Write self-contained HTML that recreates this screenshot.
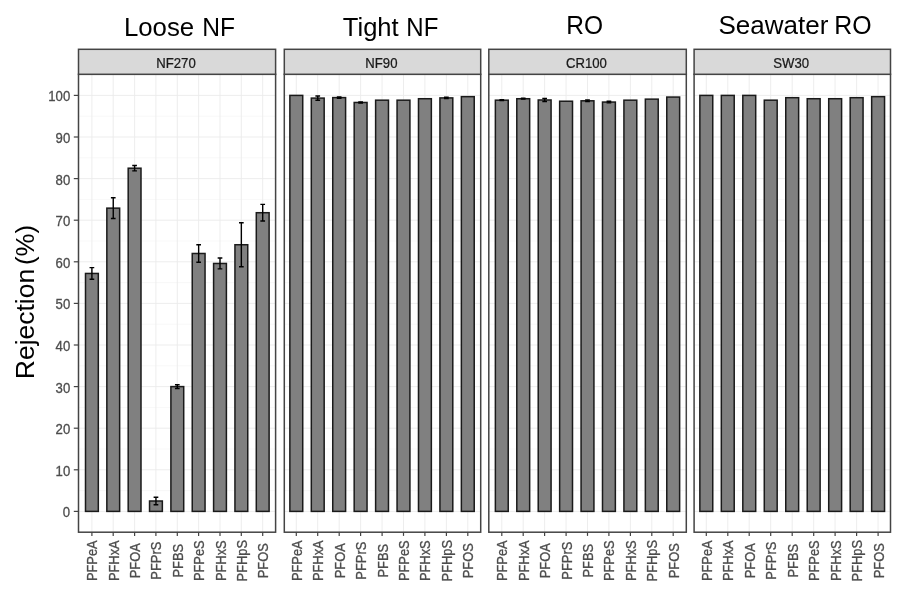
<!DOCTYPE html>
<html lang="en"><head><meta charset="utf-8"><title>PFAS rejection by membrane</title>
<style>html,body{margin:0;padding:0;background:#fff}body{width:900px;height:590px;overflow:hidden}svg{display:block;filter:blur(.4px)}text{font-family:"Liberation Sans",Arial,sans-serif}.t{font-size:25.4px;fill:#000}.ax{font-size:14px;fill:#4d4d4d;stroke:#4d4d4d;stroke-width:.3}.st{font-size:14px;fill:#1a1a1a;stroke:#1a1a1a;stroke-width:.25}.gm{stroke:#ebebeb;stroke-width:.9}.gn{stroke:#f0f0f0;stroke-width:.5}.bar{fill:#808080;stroke:#1a1a1a;stroke-width:1.5}.eb{stroke:#000;stroke-width:1.4;fill:none}.pb{fill:none;stroke:#444;stroke-width:1.5}.sb{fill:#d9d9d9;stroke:#444;stroke-width:1.5}.tk{stroke:#444;stroke-width:1.2}</style></head><body>
<svg width="900" height="590" viewBox="0 0 900 590">
<rect width="900" height="590" fill="#fff"/>
<text class="t" y="35.8"><tspan x="123.9" textLength="70.3" lengthAdjust="spacingAndGlyphs">Loose</tspan> <tspan x="202.2" textLength="32.8" lengthAdjust="spacingAndGlyphs">NF</tspan></text>
<text class="t" y="35.8"><tspan x="342.8" textLength="55.9" lengthAdjust="spacingAndGlyphs">Tight</tspan> <tspan x="406.3" textLength="32.0" lengthAdjust="spacingAndGlyphs">NF</tspan></text>
<text class="t" y="34.2"><tspan x="566.2" textLength="36.8" lengthAdjust="spacingAndGlyphs">RO</tspan></text>
<text class="t" y="33.8"><tspan x="718.5" textLength="109.8" lengthAdjust="spacingAndGlyphs">Seawater</tspan> <tspan x="834.3" textLength="37.3" lengthAdjust="spacingAndGlyphs">RO</tspan></text>
<text class="t" transform="translate(33.6,377.2) rotate(-90)"><tspan x="-2" textLength="110.4" lengthAdjust="spacingAndGlyphs">Rejection</tspan> <tspan x="112.2" textLength="40.1" lengthAdjust="spacingAndGlyphs">(%)</tspan></text>
<text class="ax" transform="translate(70.2,517.3) scale(0.94,1)" text-anchor="end">0</text>
<line class="tk" x1="73.8" x2="78.5" y1="511.4" y2="511.4"/>
<text class="ax" transform="translate(70.2,475.7) scale(0.94,1)" text-anchor="end">10</text>
<line class="tk" x1="73.8" x2="78.5" y1="469.8" y2="469.8"/>
<text class="ax" transform="translate(70.2,434.1) scale(0.94,1)" text-anchor="end">20</text>
<line class="tk" x1="73.8" x2="78.5" y1="428.2" y2="428.2"/>
<text class="ax" transform="translate(70.2,392.5) scale(0.94,1)" text-anchor="end">30</text>
<line class="tk" x1="73.8" x2="78.5" y1="386.6" y2="386.6"/>
<text class="ax" transform="translate(70.2,350.9) scale(0.94,1)" text-anchor="end">40</text>
<line class="tk" x1="73.8" x2="78.5" y1="345.0" y2="345.0"/>
<text class="ax" transform="translate(70.2,309.3) scale(0.94,1)" text-anchor="end">50</text>
<line class="tk" x1="73.8" x2="78.5" y1="303.4" y2="303.4"/>
<text class="ax" transform="translate(70.2,267.7) scale(0.94,1)" text-anchor="end">60</text>
<line class="tk" x1="73.8" x2="78.5" y1="261.8" y2="261.8"/>
<text class="ax" transform="translate(70.2,226.1) scale(0.94,1)" text-anchor="end">70</text>
<line class="tk" x1="73.8" x2="78.5" y1="220.2" y2="220.2"/>
<text class="ax" transform="translate(70.2,184.5) scale(0.94,1)" text-anchor="end">80</text>
<line class="tk" x1="73.8" x2="78.5" y1="178.6" y2="178.6"/>
<text class="ax" transform="translate(70.2,142.9) scale(0.94,1)" text-anchor="end">90</text>
<line class="tk" x1="73.8" x2="78.5" y1="137.0" y2="137.0"/>
<text class="ax" transform="translate(70.2,101.3) scale(0.94,1)" text-anchor="end">100</text>
<line class="tk" x1="73.8" x2="78.5" y1="95.4" y2="95.4"/>
<g>
<line class="gm" x1="78.5" x2="275.6" y1="511.4" y2="511.4"/>
<line class="gn" x1="78.5" x2="275.6" y1="490.6" y2="490.6"/>
<line class="gm" x1="78.5" x2="275.6" y1="469.8" y2="469.8"/>
<line class="gn" x1="78.5" x2="275.6" y1="449.0" y2="449.0"/>
<line class="gm" x1="78.5" x2="275.6" y1="428.2" y2="428.2"/>
<line class="gn" x1="78.5" x2="275.6" y1="407.4" y2="407.4"/>
<line class="gm" x1="78.5" x2="275.6" y1="386.6" y2="386.6"/>
<line class="gn" x1="78.5" x2="275.6" y1="365.8" y2="365.8"/>
<line class="gm" x1="78.5" x2="275.6" y1="345.0" y2="345.0"/>
<line class="gn" x1="78.5" x2="275.6" y1="324.2" y2="324.2"/>
<line class="gm" x1="78.5" x2="275.6" y1="303.4" y2="303.4"/>
<line class="gn" x1="78.5" x2="275.6" y1="282.6" y2="282.6"/>
<line class="gm" x1="78.5" x2="275.6" y1="261.8" y2="261.8"/>
<line class="gn" x1="78.5" x2="275.6" y1="241.0" y2="241.0"/>
<line class="gm" x1="78.5" x2="275.6" y1="220.2" y2="220.2"/>
<line class="gn" x1="78.5" x2="275.6" y1="199.4" y2="199.4"/>
<line class="gm" x1="78.5" x2="275.6" y1="178.6" y2="178.6"/>
<line class="gn" x1="78.5" x2="275.6" y1="157.8" y2="157.8"/>
<line class="gm" x1="78.5" x2="275.6" y1="137.0" y2="137.0"/>
<line class="gn" x1="78.5" x2="275.6" y1="116.2" y2="116.2"/>
<line class="gm" x1="78.5" x2="275.6" y1="95.4" y2="95.4"/>
<line class="gm" x1="91.9" x2="91.9" y1="74.3" y2="532.2"/>
<line class="gm" x1="113.2" x2="113.2" y1="74.3" y2="532.2"/>
<line class="gm" x1="134.6" x2="134.6" y1="74.3" y2="532.2"/>
<line class="gm" x1="155.9" x2="155.9" y1="74.3" y2="532.2"/>
<line class="gm" x1="177.3" x2="177.3" y1="74.3" y2="532.2"/>
<line class="gm" x1="198.6" x2="198.6" y1="74.3" y2="532.2"/>
<line class="gm" x1="220.0" x2="220.0" y1="74.3" y2="532.2"/>
<line class="gm" x1="241.3" x2="241.3" y1="74.3" y2="532.2"/>
<line class="gm" x1="262.7" x2="262.7" y1="74.3" y2="532.2"/>
<rect class="bar" x="85.50" y="273.45" width="12.81" height="237.95"/>
<path class="eb" d="M89.55 267.62H94.25M89.55 279.27H94.25M91.90 267.62V279.27"/>
<rect class="bar" x="106.84" y="208.14" width="12.81" height="303.26"/>
<path class="eb" d="M110.90 197.74H115.60M110.90 218.54H115.60M113.25 197.74V218.54"/>
<rect class="bar" x="128.19" y="168.20" width="12.81" height="343.20"/>
<path class="eb" d="M132.25 165.50H136.95M132.25 170.90H136.95M134.60 165.50V170.90"/>
<rect class="bar" x="149.54" y="501.00" width="12.81" height="10.40"/>
<path class="eb" d="M153.60 497.26H158.30M153.60 504.74H158.30M155.95 497.26V504.74"/>
<rect class="bar" x="170.90" y="386.60" width="12.81" height="124.80"/>
<path class="eb" d="M174.95 384.73H179.65M174.95 388.47H179.65M177.30 384.73V388.47"/>
<rect class="bar" x="192.24" y="253.48" width="12.81" height="257.92"/>
<path class="eb" d="M196.30 244.74H201.00M196.30 262.22H201.00M198.65 244.74V262.22"/>
<rect class="bar" x="213.59" y="263.46" width="12.81" height="247.94"/>
<path class="eb" d="M217.65 258.06H222.35M217.65 268.87H222.35M220.00 258.06V268.87"/>
<rect class="bar" x="234.94" y="244.74" width="12.81" height="266.66"/>
<path class="eb" d="M239.00 222.70H243.70M239.00 266.79H243.70M241.35 222.70V266.79"/>
<rect class="bar" x="256.30" y="212.71" width="12.81" height="298.69"/>
<path class="eb" d="M260.35 204.39H265.05M260.35 221.03H265.05M262.70 204.39V221.03"/>
<rect class="pb" x="78.5" y="74.3" width="197.1" height="457.9"/>
<rect class="sb" x="78.5" y="49.3" width="197.1" height="25.0"/>
<text class="st" transform="translate(176.0,68.4) scale(0.94,1)" text-anchor="middle">NF270</text>
<line class="tk" x1="91.9" x2="91.9" y1="532.2" y2="535.9"/>
<text class="ax" transform="translate(97.4,560.7) rotate(-90) scale(0.9199999999999999,1)" text-anchor="middle">PFPeA</text>
<line class="tk" x1="113.2" x2="113.2" y1="532.2" y2="535.9"/>
<text class="ax" transform="translate(118.8,560.7) rotate(-90) scale(0.9199999999999999,1)" text-anchor="middle">PFHxA</text>
<line class="tk" x1="134.6" x2="134.6" y1="532.2" y2="535.9"/>
<text class="ax" transform="translate(140.1,560.7) rotate(-90) scale(0.9199999999999999,1)" text-anchor="middle">PFOA</text>
<line class="tk" x1="155.9" x2="155.9" y1="532.2" y2="535.9"/>
<text class="ax" transform="translate(161.4,560.7) rotate(-90) scale(0.9199999999999999,1)" text-anchor="middle">PFPrS</text>
<line class="tk" x1="177.3" x2="177.3" y1="532.2" y2="535.9"/>
<text class="ax" transform="translate(182.8,560.7) rotate(-90) scale(0.9199999999999999,1)" text-anchor="middle">PFBS</text>
<line class="tk" x1="198.6" x2="198.6" y1="532.2" y2="535.9"/>
<text class="ax" transform="translate(204.1,560.7) rotate(-90) scale(0.9199999999999999,1)" text-anchor="middle">PFPeS</text>
<line class="tk" x1="220.0" x2="220.0" y1="532.2" y2="535.9"/>
<text class="ax" transform="translate(225.5,560.7) rotate(-90) scale(0.9199999999999999,1)" text-anchor="middle">PFHxS</text>
<line class="tk" x1="241.3" x2="241.3" y1="532.2" y2="535.9"/>
<text class="ax" transform="translate(246.8,560.7) rotate(-90) scale(0.9199999999999999,1)" text-anchor="middle">PFHpS</text>
<line class="tk" x1="262.7" x2="262.7" y1="532.2" y2="535.9"/>
<text class="ax" transform="translate(268.2,560.7) rotate(-90) scale(0.9199999999999999,1)" text-anchor="middle">PFOS</text>
</g>
<g>
<line class="gm" x1="284.3" x2="480.7" y1="511.4" y2="511.4"/>
<line class="gn" x1="284.3" x2="480.7" y1="490.6" y2="490.6"/>
<line class="gm" x1="284.3" x2="480.7" y1="469.8" y2="469.8"/>
<line class="gn" x1="284.3" x2="480.7" y1="449.0" y2="449.0"/>
<line class="gm" x1="284.3" x2="480.7" y1="428.2" y2="428.2"/>
<line class="gn" x1="284.3" x2="480.7" y1="407.4" y2="407.4"/>
<line class="gm" x1="284.3" x2="480.7" y1="386.6" y2="386.6"/>
<line class="gn" x1="284.3" x2="480.7" y1="365.8" y2="365.8"/>
<line class="gm" x1="284.3" x2="480.7" y1="345.0" y2="345.0"/>
<line class="gn" x1="284.3" x2="480.7" y1="324.2" y2="324.2"/>
<line class="gm" x1="284.3" x2="480.7" y1="303.4" y2="303.4"/>
<line class="gn" x1="284.3" x2="480.7" y1="282.6" y2="282.6"/>
<line class="gm" x1="284.3" x2="480.7" y1="261.8" y2="261.8"/>
<line class="gn" x1="284.3" x2="480.7" y1="241.0" y2="241.0"/>
<line class="gm" x1="284.3" x2="480.7" y1="220.2" y2="220.2"/>
<line class="gn" x1="284.3" x2="480.7" y1="199.4" y2="199.4"/>
<line class="gm" x1="284.3" x2="480.7" y1="178.6" y2="178.6"/>
<line class="gn" x1="284.3" x2="480.7" y1="157.8" y2="157.8"/>
<line class="gm" x1="284.3" x2="480.7" y1="137.0" y2="137.0"/>
<line class="gn" x1="284.3" x2="480.7" y1="116.2" y2="116.2"/>
<line class="gm" x1="284.3" x2="480.7" y1="95.4" y2="95.4"/>
<line class="gm" x1="296.3" x2="296.3" y1="74.3" y2="532.2"/>
<line class="gm" x1="317.7" x2="317.7" y1="74.3" y2="532.2"/>
<line class="gm" x1="339.2" x2="339.2" y1="74.3" y2="532.2"/>
<line class="gm" x1="360.6" x2="360.6" y1="74.3" y2="532.2"/>
<line class="gm" x1="382.1" x2="382.1" y1="74.3" y2="532.2"/>
<line class="gm" x1="403.5" x2="403.5" y1="74.3" y2="532.2"/>
<line class="gm" x1="424.9" x2="424.9" y1="74.3" y2="532.2"/>
<line class="gm" x1="446.4" x2="446.4" y1="74.3" y2="532.2"/>
<line class="gm" x1="467.8" x2="467.8" y1="74.3" y2="532.2"/>
<rect class="bar" x="289.87" y="95.40" width="12.86" height="416.00"/>
<rect class="bar" x="311.31" y="98.10" width="12.86" height="413.30"/>
<path class="eb" d="M315.38 96.02H320.10M315.38 100.18H320.10M317.74 96.02V100.18"/>
<rect class="bar" x="332.74" y="97.60" width="12.86" height="413.80"/>
<path class="eb" d="M336.82 96.98H341.53M336.82 98.23H341.53M339.18 96.98V98.23"/>
<rect class="bar" x="354.18" y="102.47" width="12.86" height="408.93"/>
<path class="eb" d="M358.25 101.85H362.97M358.25 103.10H362.97M360.61 101.85V103.10"/>
<rect class="bar" x="375.62" y="100.18" width="12.86" height="411.22"/>
<rect class="bar" x="397.06" y="100.18" width="12.86" height="411.22"/>
<rect class="bar" x="418.49" y="98.73" width="12.86" height="412.67"/>
<rect class="bar" x="439.93" y="97.90" width="12.86" height="413.50"/>
<path class="eb" d="M444.00 97.27H448.72M444.00 98.52H448.72M446.36 97.27V98.52"/>
<rect class="bar" x="461.37" y="96.65" width="12.86" height="414.75"/>
<rect class="pb" x="284.3" y="74.3" width="196.4" height="457.9"/>
<rect class="sb" x="284.3" y="49.3" width="196.4" height="25.0"/>
<text class="st" transform="translate(381.4,68.4) scale(0.94,1)" text-anchor="middle">NF90</text>
<line class="tk" x1="296.3" x2="296.3" y1="532.2" y2="535.9"/>
<text class="ax" transform="translate(301.8,560.7) rotate(-90) scale(0.9199999999999999,1)" text-anchor="middle">PFPeA</text>
<line class="tk" x1="317.7" x2="317.7" y1="532.2" y2="535.9"/>
<text class="ax" transform="translate(323.2,560.7) rotate(-90) scale(0.9199999999999999,1)" text-anchor="middle">PFHxA</text>
<line class="tk" x1="339.2" x2="339.2" y1="532.2" y2="535.9"/>
<text class="ax" transform="translate(344.7,560.7) rotate(-90) scale(0.9199999999999999,1)" text-anchor="middle">PFOA</text>
<line class="tk" x1="360.6" x2="360.6" y1="532.2" y2="535.9"/>
<text class="ax" transform="translate(366.1,560.7) rotate(-90) scale(0.9199999999999999,1)" text-anchor="middle">PFPrS</text>
<line class="tk" x1="382.1" x2="382.1" y1="532.2" y2="535.9"/>
<text class="ax" transform="translate(387.6,560.7) rotate(-90) scale(0.9199999999999999,1)" text-anchor="middle">PFBS</text>
<line class="tk" x1="403.5" x2="403.5" y1="532.2" y2="535.9"/>
<text class="ax" transform="translate(409.0,560.7) rotate(-90) scale(0.9199999999999999,1)" text-anchor="middle">PFPeS</text>
<line class="tk" x1="424.9" x2="424.9" y1="532.2" y2="535.9"/>
<text class="ax" transform="translate(430.4,560.7) rotate(-90) scale(0.9199999999999999,1)" text-anchor="middle">PFHxS</text>
<line class="tk" x1="446.4" x2="446.4" y1="532.2" y2="535.9"/>
<text class="ax" transform="translate(451.9,560.7) rotate(-90) scale(0.9199999999999999,1)" text-anchor="middle">PFHpS</text>
<line class="tk" x1="467.8" x2="467.8" y1="532.2" y2="535.9"/>
<text class="ax" transform="translate(473.3,560.7) rotate(-90) scale(0.9199999999999999,1)" text-anchor="middle">PFOS</text>
</g>
<g>
<line class="gm" x1="488.8" x2="686.3" y1="511.4" y2="511.4"/>
<line class="gn" x1="488.8" x2="686.3" y1="490.6" y2="490.6"/>
<line class="gm" x1="488.8" x2="686.3" y1="469.8" y2="469.8"/>
<line class="gn" x1="488.8" x2="686.3" y1="449.0" y2="449.0"/>
<line class="gm" x1="488.8" x2="686.3" y1="428.2" y2="428.2"/>
<line class="gn" x1="488.8" x2="686.3" y1="407.4" y2="407.4"/>
<line class="gm" x1="488.8" x2="686.3" y1="386.6" y2="386.6"/>
<line class="gn" x1="488.8" x2="686.3" y1="365.8" y2="365.8"/>
<line class="gm" x1="488.8" x2="686.3" y1="345.0" y2="345.0"/>
<line class="gn" x1="488.8" x2="686.3" y1="324.2" y2="324.2"/>
<line class="gm" x1="488.8" x2="686.3" y1="303.4" y2="303.4"/>
<line class="gn" x1="488.8" x2="686.3" y1="282.6" y2="282.6"/>
<line class="gm" x1="488.8" x2="686.3" y1="261.8" y2="261.8"/>
<line class="gn" x1="488.8" x2="686.3" y1="241.0" y2="241.0"/>
<line class="gm" x1="488.8" x2="686.3" y1="220.2" y2="220.2"/>
<line class="gn" x1="488.8" x2="686.3" y1="199.4" y2="199.4"/>
<line class="gm" x1="488.8" x2="686.3" y1="178.6" y2="178.6"/>
<line class="gn" x1="488.8" x2="686.3" y1="157.8" y2="157.8"/>
<line class="gm" x1="488.8" x2="686.3" y1="137.0" y2="137.0"/>
<line class="gn" x1="488.8" x2="686.3" y1="116.2" y2="116.2"/>
<line class="gm" x1="488.8" x2="686.3" y1="95.4" y2="95.4"/>
<line class="gm" x1="501.8" x2="501.8" y1="74.3" y2="532.2"/>
<line class="gm" x1="523.2" x2="523.2" y1="74.3" y2="532.2"/>
<line class="gm" x1="544.6" x2="544.6" y1="74.3" y2="532.2"/>
<line class="gm" x1="566.1" x2="566.1" y1="74.3" y2="532.2"/>
<line class="gm" x1="587.5" x2="587.5" y1="74.3" y2="532.2"/>
<line class="gm" x1="608.9" x2="608.9" y1="74.3" y2="532.2"/>
<line class="gm" x1="630.4" x2="630.4" y1="74.3" y2="532.2"/>
<line class="gm" x1="651.8" x2="651.8" y1="74.3" y2="532.2"/>
<line class="gm" x1="673.2" x2="673.2" y1="74.3" y2="532.2"/>
<rect class="bar" x="495.37" y="100.18" width="12.86" height="411.22"/>
<path class="eb" d="M499.44 99.77H504.16M499.44 100.60H504.16M501.80 99.77V100.60"/>
<rect class="bar" x="516.80" y="98.73" width="12.86" height="412.67"/>
<path class="eb" d="M520.87 98.31H525.58M520.87 99.14H525.58M523.23 98.31V99.14"/>
<rect class="bar" x="538.22" y="99.98" width="12.86" height="411.42"/>
<path class="eb" d="M542.29 98.52H547.01M542.29 101.43H547.01M544.65 98.52V101.43"/>
<rect class="bar" x="559.65" y="101.22" width="12.86" height="410.18"/>
<rect class="bar" x="581.07" y="100.81" width="12.86" height="410.59"/>
<path class="eb" d="M585.14 99.98H589.86M585.14 101.64H589.86M587.50 99.98V101.64"/>
<rect class="bar" x="602.50" y="102.06" width="12.86" height="409.34"/>
<path class="eb" d="M606.57 101.22H611.28M606.57 102.89H611.28M608.93 101.22V102.89"/>
<rect class="bar" x="623.92" y="100.18" width="12.86" height="411.22"/>
<rect class="bar" x="645.35" y="99.14" width="12.86" height="412.26"/>
<rect class="bar" x="666.77" y="97.06" width="12.86" height="414.34"/>
<rect class="pb" x="488.8" y="74.3" width="197.5" height="457.9"/>
<rect class="sb" x="488.8" y="49.3" width="197.5" height="25.0"/>
<text class="st" transform="translate(586.4,68.4) scale(0.94,1)" text-anchor="middle">CR100</text>
<line class="tk" x1="501.8" x2="501.8" y1="532.2" y2="535.9"/>
<text class="ax" transform="translate(507.3,560.7) rotate(-90) scale(0.9199999999999999,1)" text-anchor="middle">PFPeA</text>
<line class="tk" x1="523.2" x2="523.2" y1="532.2" y2="535.9"/>
<text class="ax" transform="translate(528.7,560.7) rotate(-90) scale(0.9199999999999999,1)" text-anchor="middle">PFHxA</text>
<line class="tk" x1="544.6" x2="544.6" y1="532.2" y2="535.9"/>
<text class="ax" transform="translate(550.1,560.7) rotate(-90) scale(0.9199999999999999,1)" text-anchor="middle">PFOA</text>
<line class="tk" x1="566.1" x2="566.1" y1="532.2" y2="535.9"/>
<text class="ax" transform="translate(571.6,560.7) rotate(-90) scale(0.9199999999999999,1)" text-anchor="middle">PFPrS</text>
<line class="tk" x1="587.5" x2="587.5" y1="532.2" y2="535.9"/>
<text class="ax" transform="translate(593.0,560.7) rotate(-90) scale(0.9199999999999999,1)" text-anchor="middle">PFBS</text>
<line class="tk" x1="608.9" x2="608.9" y1="532.2" y2="535.9"/>
<text class="ax" transform="translate(614.4,560.7) rotate(-90) scale(0.9199999999999999,1)" text-anchor="middle">PFPeS</text>
<line class="tk" x1="630.4" x2="630.4" y1="532.2" y2="535.9"/>
<text class="ax" transform="translate(635.9,560.7) rotate(-90) scale(0.9199999999999999,1)" text-anchor="middle">PFHxS</text>
<line class="tk" x1="651.8" x2="651.8" y1="532.2" y2="535.9"/>
<text class="ax" transform="translate(657.3,560.7) rotate(-90) scale(0.9199999999999999,1)" text-anchor="middle">PFHpS</text>
<line class="tk" x1="673.2" x2="673.2" y1="532.2" y2="535.9"/>
<text class="ax" transform="translate(678.7,560.7) rotate(-90) scale(0.9199999999999999,1)" text-anchor="middle">PFOS</text>
</g>
<g>
<line class="gm" x1="694.1" x2="890.5" y1="511.4" y2="511.4"/>
<line class="gn" x1="694.1" x2="890.5" y1="490.6" y2="490.6"/>
<line class="gm" x1="694.1" x2="890.5" y1="469.8" y2="469.8"/>
<line class="gn" x1="694.1" x2="890.5" y1="449.0" y2="449.0"/>
<line class="gm" x1="694.1" x2="890.5" y1="428.2" y2="428.2"/>
<line class="gn" x1="694.1" x2="890.5" y1="407.4" y2="407.4"/>
<line class="gm" x1="694.1" x2="890.5" y1="386.6" y2="386.6"/>
<line class="gn" x1="694.1" x2="890.5" y1="365.8" y2="365.8"/>
<line class="gm" x1="694.1" x2="890.5" y1="345.0" y2="345.0"/>
<line class="gn" x1="694.1" x2="890.5" y1="324.2" y2="324.2"/>
<line class="gm" x1="694.1" x2="890.5" y1="303.4" y2="303.4"/>
<line class="gn" x1="694.1" x2="890.5" y1="282.6" y2="282.6"/>
<line class="gm" x1="694.1" x2="890.5" y1="261.8" y2="261.8"/>
<line class="gn" x1="694.1" x2="890.5" y1="241.0" y2="241.0"/>
<line class="gm" x1="694.1" x2="890.5" y1="220.2" y2="220.2"/>
<line class="gn" x1="694.1" x2="890.5" y1="199.4" y2="199.4"/>
<line class="gm" x1="694.1" x2="890.5" y1="178.6" y2="178.6"/>
<line class="gn" x1="694.1" x2="890.5" y1="157.8" y2="157.8"/>
<line class="gm" x1="694.1" x2="890.5" y1="137.0" y2="137.0"/>
<line class="gn" x1="694.1" x2="890.5" y1="116.2" y2="116.2"/>
<line class="gm" x1="694.1" x2="890.5" y1="95.4" y2="95.4"/>
<line class="gm" x1="706.3" x2="706.3" y1="74.3" y2="532.2"/>
<line class="gm" x1="727.8" x2="727.8" y1="74.3" y2="532.2"/>
<line class="gm" x1="749.2" x2="749.2" y1="74.3" y2="532.2"/>
<line class="gm" x1="770.7" x2="770.7" y1="74.3" y2="532.2"/>
<line class="gm" x1="792.2" x2="792.2" y1="74.3" y2="532.2"/>
<line class="gm" x1="813.7" x2="813.7" y1="74.3" y2="532.2"/>
<line class="gm" x1="835.1" x2="835.1" y1="74.3" y2="532.2"/>
<line class="gm" x1="856.6" x2="856.6" y1="74.3" y2="532.2"/>
<line class="gm" x1="878.1" x2="878.1" y1="74.3" y2="532.2"/>
<rect class="bar" x="699.86" y="95.40" width="12.89" height="416.00"/>
<rect class="bar" x="721.33" y="95.40" width="12.89" height="416.00"/>
<rect class="bar" x="742.81" y="95.40" width="12.89" height="416.00"/>
<rect class="bar" x="764.28" y="100.18" width="12.89" height="411.22"/>
<rect class="bar" x="785.76" y="97.69" width="12.89" height="413.71"/>
<rect class="bar" x="807.23" y="98.73" width="12.89" height="412.67"/>
<rect class="bar" x="828.71" y="98.73" width="12.89" height="412.67"/>
<rect class="bar" x="850.18" y="97.69" width="12.89" height="413.71"/>
<rect class="bar" x="871.66" y="96.65" width="12.89" height="414.75"/>
<rect class="pb" x="694.1" y="74.3" width="196.4" height="457.9"/>
<rect class="sb" x="694.1" y="49.3" width="196.4" height="25.0"/>
<text class="st" transform="translate(791.2,68.4) scale(0.94,1)" text-anchor="middle">SW30</text>
<line class="tk" x1="706.3" x2="706.3" y1="532.2" y2="535.9"/>
<text class="ax" transform="translate(711.8,560.7) rotate(-90) scale(0.9199999999999999,1)" text-anchor="middle">PFPeA</text>
<line class="tk" x1="727.8" x2="727.8" y1="532.2" y2="535.9"/>
<text class="ax" transform="translate(733.3,560.7) rotate(-90) scale(0.9199999999999999,1)" text-anchor="middle">PFHxA</text>
<line class="tk" x1="749.2" x2="749.2" y1="532.2" y2="535.9"/>
<text class="ax" transform="translate(754.8,560.7) rotate(-90) scale(0.9199999999999999,1)" text-anchor="middle">PFOA</text>
<line class="tk" x1="770.7" x2="770.7" y1="532.2" y2="535.9"/>
<text class="ax" transform="translate(776.2,560.7) rotate(-90) scale(0.9199999999999999,1)" text-anchor="middle">PFPrS</text>
<line class="tk" x1="792.2" x2="792.2" y1="532.2" y2="535.9"/>
<text class="ax" transform="translate(797.7,560.7) rotate(-90) scale(0.9199999999999999,1)" text-anchor="middle">PFBS</text>
<line class="tk" x1="813.7" x2="813.7" y1="532.2" y2="535.9"/>
<text class="ax" transform="translate(819.2,560.7) rotate(-90) scale(0.9199999999999999,1)" text-anchor="middle">PFPeS</text>
<line class="tk" x1="835.1" x2="835.1" y1="532.2" y2="535.9"/>
<text class="ax" transform="translate(840.6,560.7) rotate(-90) scale(0.9199999999999999,1)" text-anchor="middle">PFHxS</text>
<line class="tk" x1="856.6" x2="856.6" y1="532.2" y2="535.9"/>
<text class="ax" transform="translate(862.1,560.7) rotate(-90) scale(0.9199999999999999,1)" text-anchor="middle">PFHpS</text>
<line class="tk" x1="878.1" x2="878.1" y1="532.2" y2="535.9"/>
<text class="ax" transform="translate(883.6,560.7) rotate(-90) scale(0.9199999999999999,1)" text-anchor="middle">PFOS</text>
</g>
</svg></body></html>
